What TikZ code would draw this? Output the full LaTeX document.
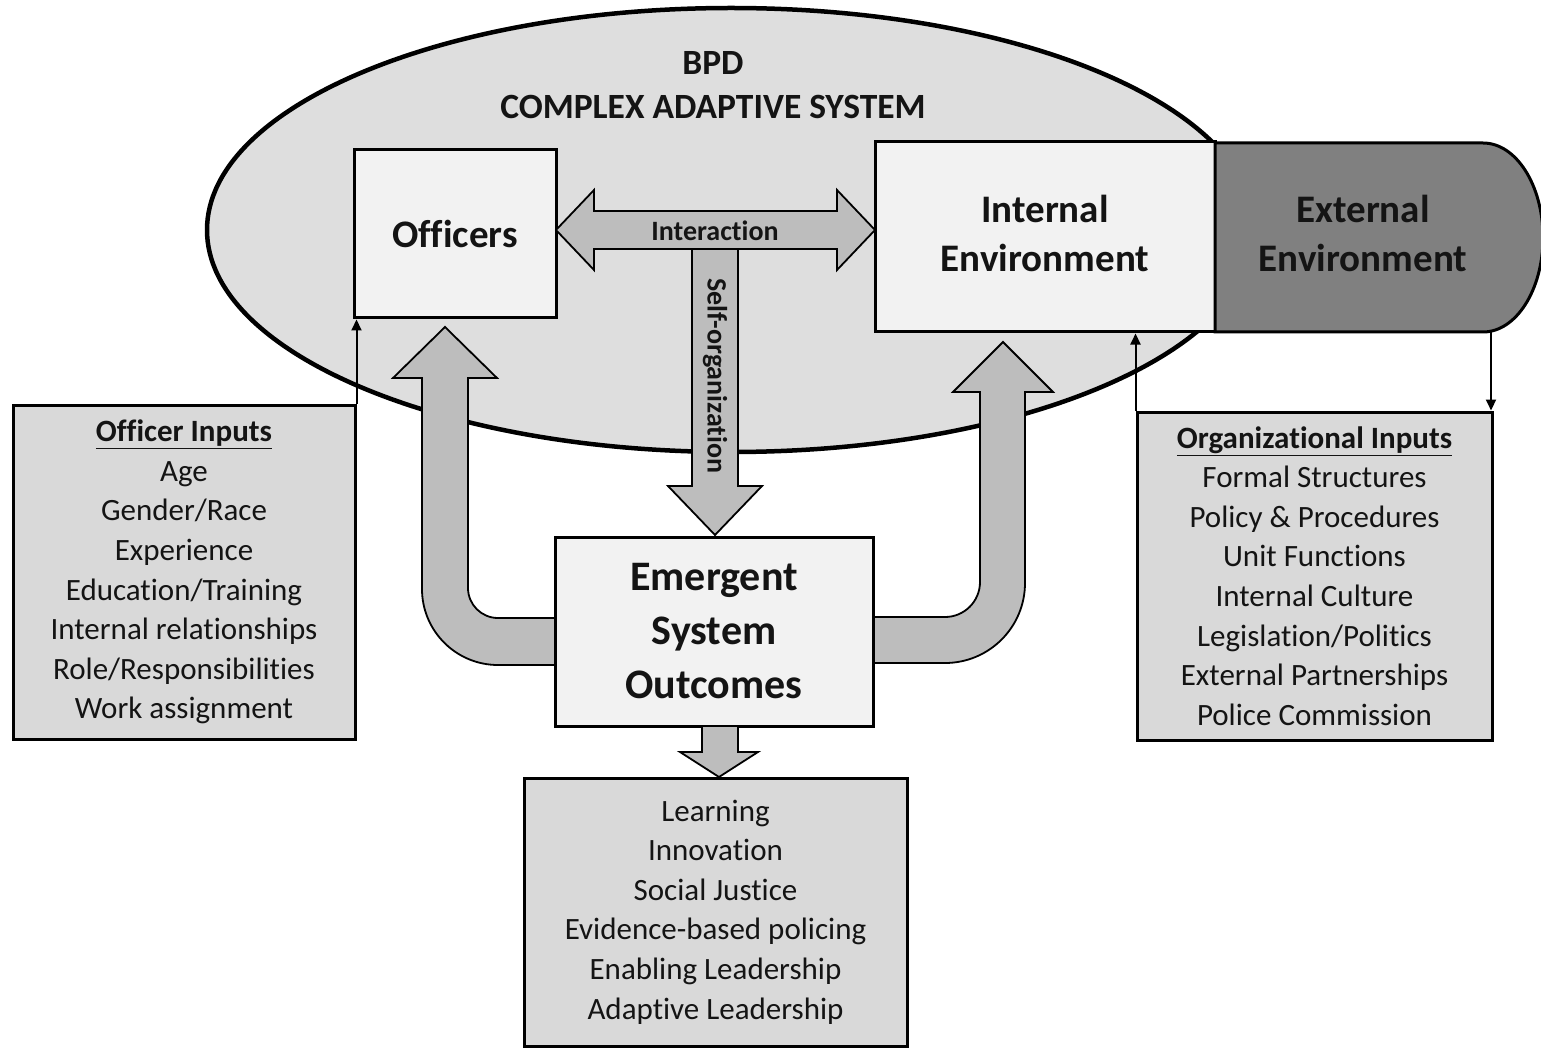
\documentclass[tikz,border=0pt]{standalone}
\usepackage{fontspec}
\setmainfont{Carlito}[RawFeature={-liga;-clig;-dlig;-calt}]
\usetikzlibrary{shapes.geometric,arrows.meta}

\definecolor{systemfill}{RGB}{222,222,222}
\definecolor{boxlight}{RGB}{242,242,242}
\definecolor{inputfill}{RGB}{217,217,217}
\definecolor{arrowfill}{RGB}{189,189,189}
\definecolor{extfill}{RGB}{128,128,128}
\definecolor{inkblack}{RGB}{20,20,20}

\begin{document}
\begin{tikzpicture}[x=1pt,y=-1pt,
  frame/.style={draw=black, line width=3pt, inner sep=0pt, align=center, text=inkblack},
  agentbox/.style={frame, fill=boxlight, font=\fontsize{39}{50}\selectfont\bfseries},
  listbox/.style={frame, fill=inputfill, font=\fontsize{31}{39.6}\selectfont},
  blockarrow/.style={draw=black, line width=1.8pt, fill=arrowfill, line join=miter},
  feed/.style={line width=2pt, -{Triangle[length=11pt,width=10pt]}},
  arrowlabel/.style={font=\fontsize{28}{32}\selectfont\bfseries, text=inkblack, inner sep=0pt}
]
\useasboundingbox (0,0) rectangle (1541,1048);
\clip (0,0) rectangle (1541,1048);

% the complex adaptive system
\node[ellipse, draw=black, line width=4.5pt, fill=systemfill, inner sep=0pt,
      minimum width=1048pt, minimum height=444pt] (cas) at (731,230) {};
\node[align=center, text=inkblack, font=\fontsize{35.5}{44}\selectfont\bfseries]
      (title) at (713,85) {BPD\\COMPLEX ADAPTIVE SYSTEM};

% agents and environments
\node[agentbox, minimum width=202pt, minimum height=168pt] (officers) at (455,234) {Officers};
\node[agentbox, minimum width=340pt, minimum height=190pt] (internal) at (1045,237)
      {\raisebox{4pt}{\begin{tabular}{@{}c@{}}Internal\\[-1pt]Environment\end{tabular}}};
\draw[line width=3pt, fill=extfill] (1215,143) -- (1483,143)
      arc[start angle=90, end angle=-90, x radius=60pt, y radius=94.5pt]
      -- (1215,332) -- cycle;
\node[align=center, text=inkblack, font=\fontsize{39}{49}\selectfont\bfseries]
      (external) at (1363,233) {External\\Environment};
\coordinate (extbottom) at (1491,332);

% self-organization arrow
\draw[blockarrow] (692,249) -- (738,249) -- (738,486) -- (762,486) -- (715,535)
      -- (668,486) -- (692,486) -- cycle;
\node[arrowlabel, rotate=-90] (selforg) at (715,376) {Self-organization};

% interaction arrow
\draw[blockarrow] (556,230) -- (594,190) -- (594,211) -- (837,211) -- (837,190)
      -- (875,230) -- (837,270) -- (837,249) -- (594,249) -- (594,270) -- cycle;
\node[arrowlabel] (interaction) at (715,231) {Interaction};

% feedback arrows from the outcomes back to the agents
\draw[blockarrow] (555,665) -- (498,665)
      arc[start angle=270, end angle=180, radius=76pt]
      -- (422,378) -- (393,378) -- (445,327) -- (497,378) -- (468,378) -- (468,588)
      arc[start angle=180, end angle=270, radius=30pt]
      -- (555,618) -- cycle;
\draw[blockarrow] (873,663) -- (945,663)
      arc[start angle=270, end angle=360, radius=80pt]
      -- (1025,392) -- (1053,392) -- (1003,342) -- (953,392) -- (980,392) -- (980,582)
      arc[start angle=0, end angle=-90, radius=35pt]
      -- (873,617) -- cycle;

% emergent outcomes
\node[frame, fill=boxlight, minimum width=318pt, minimum height=189pt,
      font=\fontsize{42}{54}\selectfont\bfseries] (emergent) at (714,631.5)
      {Emergent\\System\\Outcomes};
\draw[blockarrow] (702,726) -- (738,726) -- (738,752) -- (758,752) -- (719,777)
      -- (680,752) -- (702,752) -- cycle;
\node[listbox, minimum width=383pt, minimum height=268pt] (outcomes) at (715.5,912)
      {Learning\\Innovation\\Social Justice\\Evidence-based policing\\
       Enabling Leadership\\Adaptive Leadership};

% inputs
\node[listbox, minimum width=342pt, minimum height=334pt] (oinputs) at (184,572)
      {\textbf{\underline{Officer Inputs}}\\Age\\Gender/Race\\Experience\\
       Education/Training\\Internal relationships\\Role/Responsibilities\\Work assignment};
\node[listbox, minimum width=355pt, minimum height=328pt] (orginputs) at (1314.5,576)
      {\textbf{\underline{Organizational Inputs}}\\Formal Structures\\Policy \& Procedures\\
       Unit Functions\\Internal Culture\\Legislation/Politics\\External Partnerships\\
       Police Commission};

\draw[feed] (oinputs.north east) -- (oinputs.north east |- officers.south);
\draw[feed] (orginputs.north west) -- (orginputs.north west |- internal.south);
\draw[feed] (extbottom) -- (extbottom |- orginputs.north);
\end{tikzpicture}
\end{document}
